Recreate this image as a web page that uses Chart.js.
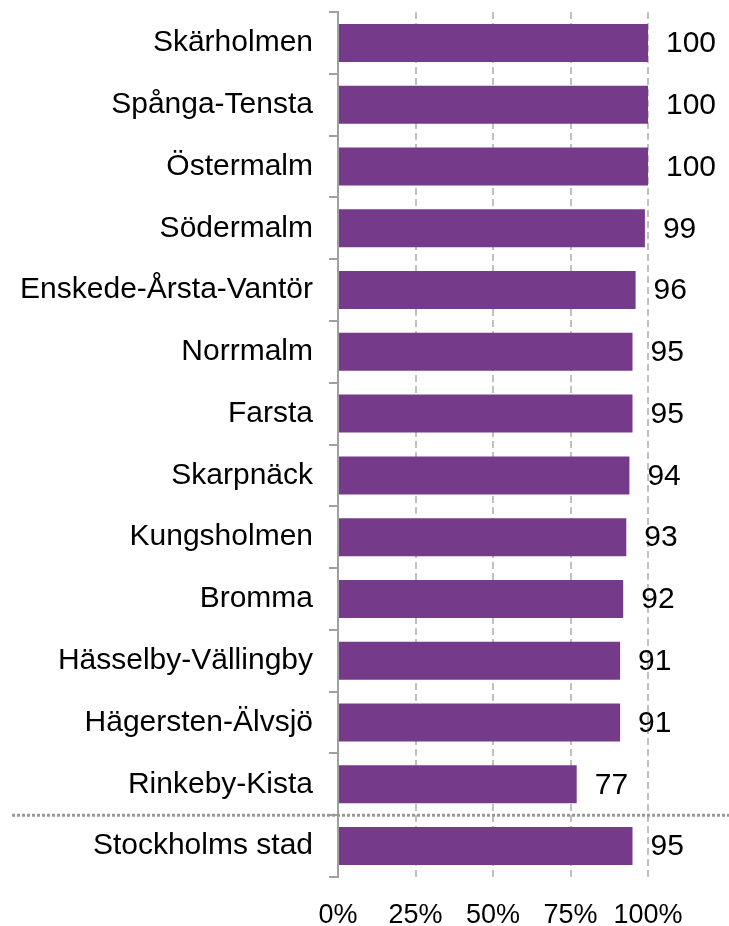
<!DOCTYPE html>
<html>
<head>
<meta charset="utf-8">
<script src="https://cdn.jsdelivr.net/npm/chart.js@4/dist/chart.umd.min.js"></script>
<style>
  html, body { margin: 0; padding: 0; background: #fff; }
  #wrap { width: 729px; height: 926px; position: relative; }
</style>
</head>
<body>
<div id="wrap"><canvas id="c" width="729" height="926"></canvas></div>
<script>
const categories = [
  "Skärholmen", "Spånga-Tensta", "Östermalm", "Södermalm", "Enskede-Årsta-Vantör",
  "Norrmalm", "Farsta", "Skarpnäck", "Kungsholmen", "Bromma",
  "Hässelby-Vällingby", "Hägersten-Älvsjö", "Rinkeby-Kista", "Stockholms stad"
];
const values = [100, 100, 100, 99, 96, 95, 95, 94, 93, 92, 91, 91, 77, 95];
const xTicks = [0, 25, 50, 75, 100];
const separatorAfter = "Rinkeby-Kista";

const FONT = "'Liberation Sans', Arial, sans-serif";
const BAR = "#763A8A";

const valueLabels = {
  id: "valueLabels",
  afterDatasetsDraw(chart) {
    const ctx = chart.ctx;
    const meta = chart.getDatasetMeta(0);
    ctx.save();
    ctx.font = "30px " + FONT;
    ctx.fillStyle = "#000";
    ctx.textAlign = "left";
    ctx.textBaseline = "middle";
    meta.data.forEach((bar, i) => {
      ctx.fillText(String(values[i]), bar.x + 18, bar.y + 1);
    });
    ctx.restore();
  }
};

const separator = {
  id: "separator",
  afterDraw(chart) {
    const ys = chart.scales.y;
    const i = categories.indexOf(separatorAfter);
    const y = (ys.getPixelForValue(i) + ys.getPixelForValue(i + 1)) / 2;
    const ctx = chart.ctx;
    ctx.save();
    ctx.strokeStyle = "#999999";
    ctx.lineWidth = 3;
    ctx.setLineDash([3, 2]);
    ctx.beginPath();
    ctx.moveTo(12, y);
    ctx.lineTo(729, y);
    ctx.stroke();
    ctx.restore();
  }
};

new Chart(document.getElementById("c"), {
  type: "bar",
  data: {
    labels: categories,
    datasets: [{
      data: values,
      backgroundColor: BAR,
      borderWidth: 0,
      categoryPercentage: 1,
      barPercentage: 0.615
    }]
  },
  options: {
    indexAxis: "y",
    responsive: false,
    animation: false,
    devicePixelRatio: 1,
    layout: { padding: { top: 12, right: 81, left: 0, bottom: 0 } },
    plugins: { legend: { display: false }, tooltip: { enabled: false } },
    scales: {
      x: {
        min: 0, max: 100,
        afterBuildTicks(s) { s.ticks = xTicks.map(v => ({ value: v })); },
        afterFit(s) { s.height = 49; s.paddingLeft = 0; s.paddingRight = 0; },
        border: { display: false, dash: [7, 4] },
        grid: {
          drawTicks: false,
          color: ctx => ctx.tick && ctx.tick.value === 0 ? "rgba(0,0,0,0)" : "#c0c0c0",
          lineWidth: 2
        },
        ticks: {
          padding: 22,
          color: "#000",
          font: { size: 27, family: FONT },
          callback: v => v + "%"
        }
      },
      y: {
        offset: true,
        afterFit(s) { s.width = 338; s.paddingTop = 0; s.paddingBottom = 0; },
        border: { display: true, color: "#a0a0a0", width: 2 },
        grid: {
          offset: true,
          drawOnChartArea: false,
          drawTicks: true,
          tickLength: 9,
          color: "#a0a0a0",
          lineWidth: 2
        },
        ticks: {
          padding: 16,
          color: "#000",
          font: { size: 30, family: FONT }
        }
      }
    }
  },
  plugins: [valueLabels, separator]
});
</script>
</body>
</html>
